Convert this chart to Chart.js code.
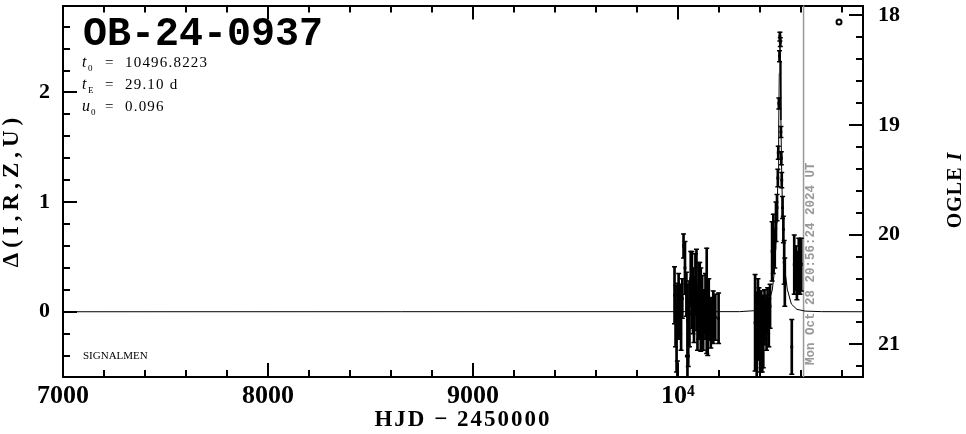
<!DOCTYPE html>
<html>
<head>
<meta charset="utf-8">
<script src="https://cdn.jsdelivr.net/npm/chart.js@4"></script>
<style>
  html, body { margin: 0; padding: 0; background: #fff; }
  #wrap { width: 966px; height: 434px; position: relative; }
</style>
</head>
<body>
<div id="wrap"><canvas id="lc"></canvas></div>
<script>
// photometry (HJD - 2450000, delta mag, error)
const hjd = [9983, 9988, 9993, 9997, 9998, 10003, 10008, 10015, 10021, 10027, 10034, 10041, 10046, 10046, 10050,
  10056, 10062, 10068, 10073, 10078, 10085, 10090, 10095, 10101, 10106, 10111, 10118, 10123, 10128, 10134,
  10140, 10145, 10150, 10160, 10172, 10182, 10198,
  10376, 10384, 10390, 10395, 10400, 10406, 10411, 10416, 10422, 10428, 10432, 10437, 10443, 10449,
  10459, 10465, 10472, 10478,
  10483, 10487, 10489, 10492, 10495, 10497, 10499, 10502, 10504, 10506, 10510, 10514, 10518, 10521,
  10555, 10567, 10574, 10580, 10589, 10595, 10601];
const delta = [0.15, -0.04, -0.25, -0.70, 0.02, 0.05, 0.02, -0.05, 0.12, 0.60, 0.40, 0.16, -0.08, -0.65, -0.20,
  -0.02, 0.30, 0.20, 0.10, 0.02, 0.25, 0.20, -0.05, 0.10, 0.15, 0.02, 0.08, -0.10, 0.00, 0.05,
  0.10, -0.10, 0.02, -0.10, -0.05, -0.05, -0.06,
  -0.10, -0.22, -0.05, -0.11, -0.30, -0.16, -0.25, -0.18, -0.05, -0.07, -0.10, 0.01, -0.10, 0.05,
  0.55, 0.62, 0.58, 0.82,
  0.95, 1.22, 1.45, 1.90, 2.33, 2.51, 2.46, 1.64, 1.40, 1.20, 0.95, 0.75, 0.45, 0.27,
  -0.32, 0.43, 0.40, 0.33, 0.42, 0.30, 0.43];
const deltaErr = [0.26, 0.28, 0.30, 0.25, 0.24, 0.30, 0.22, 0.30, 0.18, 0.11, 0.24, 0.20, 0.33, 0.25, 0.30,
  0.30, 0.25, 0.35, 0.30, 0.30, 0.28, 0.37, 0.30, 0.35, 0.30, 0.38, 0.25, 0.25, 0.20, 0.30,
  0.48, 0.30, 0.28, 0.23, 0.24, 0.21, 0.23,
  0.44, 0.40, 0.35, 0.33, 0.25, 0.35, 0.30, 0.33, 0.25, 0.18, 0.25, 0.21, 0.22, 0.20,
  0.27, 0.27, 0.18, 0.18,
  0.12, 0.08, 0.06, 0.05, 0.05, 0.04, 0.04, 0.05, 0.06, 0.07, 0.10, 0.12, 0.20, 0.22,
  0.25, 0.27, 0.20, 0.22, 0.25, 0.14, 0.24];

// model curve
const modelHjd = [7000, 10300, 10400, 10440, 10460, 10470, 10478, 10484, 10488, 10491, 10494, 10496.8,
  10499, 10502, 10505, 10509, 10515, 10523, 10533, 10553, 10580, 10620, 10700, 10902];
const modelDelta = [0, 0.001, 0.013, 0.068, 0.199, 0.365, 0.617, 0.944, 1.286, 1.658, 2.174, 2.548,
  2.288, 1.749, 1.351, 0.988, 0.643, 0.358, 0.206, 0.070, 0.022, 0.006, 0.001, 0];

// axes
const xMajorTicks = [7000, 8000, 9000, 10000];
const deltaMajorTicks = [0, 1, 2];
const magMajorTicks = [18, 19, 20, 21];
const xMinorTicks = [];
for (let v = 7200; v < 10900; v += 200) if (v % 1000) xMinorTicks.push(v);
const deltaMinorTicks = [];
for (let i = -2; i <= 13; i++) if (i % 5) deltaMinorTicks.push(i / 5);
const magMinorTicks = [];
for (let i = 91; i <= 106; i++) if (i % 5) magMinorTicks.push(i / 5);

const alertHjd = 10612.37;
const alertText = 'Mon Oct 28 20:56:24 2024 UT';
const eventName = 'OB-24-0937';

const serif = '"Liberation Serif", "DejaVu Serif", serif';
const mono = '"Liberation Mono", "DejaVu Sans Mono", monospace';

// fixed axis box sizes, no extra label padding
const fixSize = (w, h) => (scale) => {
  if (w != null) scale.width = w;
  if (h != null) scale.height = h;
  scale.paddingLeft = scale.paddingRight = scale.paddingTop = scale.paddingBottom = 0;
};

const decor = {
  id: 'decor',
  beforeDatasetsDraw(chart) {
    const { ctx, chartArea: a, scales } = chart;
    // alert time marker
    const xp = scales.x.getPixelForValue(alertHjd);
    ctx.save();
    ctx.strokeStyle = '#999';
    ctx.lineWidth = 1.5;
    ctx.beginPath();
    ctx.moveTo(xp, a.top);
    ctx.lineTo(xp, a.bottom);
    ctx.stroke();
    ctx.translate(xp + 7, a.bottom - 12);
    ctx.rotate(-Math.PI / 2);
    ctx.fillStyle = '#999';
    ctx.font = 'bold 12.5px ' + mono;
    ctx.textBaseline = 'middle';
    ctx.textAlign = 'left';
    ctx.fillText(alertText, 0, 0);
    ctx.restore();
  },
  afterDraw(chart) {
    const { ctx, chartArea: a, scales } = chart;
    ctx.save();
    ctx.strokeStyle = '#000';
    ctx.lineWidth = 2;
    const hTicks = (vals, len) => vals.forEach(v => {
      const p = Math.round(scales.x.getPixelForValue(v));
      ctx.beginPath();
      ctx.moveTo(p, a.bottom); ctx.lineTo(p, a.bottom - len);
      ctx.moveTo(p, a.top); ctx.lineTo(p, a.top + len);
      ctx.stroke();
    });
    const vTicks = (scale, vals, len, left) => vals.forEach(v => {
      const p = Math.round(scale.getPixelForValue(v));
      const x0 = left ? a.left : a.right;
      ctx.beginPath();
      ctx.moveTo(x0, p); ctx.lineTo(left ? x0 + len : x0 - len, p);
      ctx.stroke();
    });
    hTicks(xMajorTicks, 14);
    hTicks(xMinorTicks, 7);
    vTicks(scales.y, deltaMajorTicks, 14, true);
    vTicks(scales.y, deltaMinorTicks, 7, true);
    vTicks(scales.y2, magMajorTicks, 14, false);
    vTicks(scales.y2, magMinorTicks, 7, false);

    ctx.fillStyle = '#000';
    ctx.textBaseline = 'alphabetic';
    ctx.textAlign = 'left';
    // event name
    ctx.font = 'bold 40px ' + mono;
    ctx.fillText(eventName, 83, 45);
    // parameters
    const param = (sym, sub, val, y) => {
      ctx.font = 'italic 16px ' + serif;
      ctx.letterSpacing = '0px';
      ctx.fillText(sym, 82, y);
      ctx.font = '9px ' + serif;
      ctx.fillText(sub, sym === 'u' ? 91 : 88, y + 4);
      ctx.font = '15px ' + serif;
      ctx.letterSpacing = '1.2px';
      ctx.fillText('=', 105, y);
      ctx.fillText(val, 125, y);
      ctx.letterSpacing = '0px';
    };
    param('t', '0', '10496.8223', 67);
    param('t', 'E', '29.10 d', 89);
    param('u', '0', '0.096', 111);
    ctx.font = '11px ' + serif;
    ctx.fillText('SIGNALMEN', 83, 359);

    // dataset marker
    ctx.beginPath();
    ctx.lineWidth = 2;
    ctx.arc(839, 22, 2.5, 0, Math.PI * 2);
    ctx.stroke();

    // axis titles
    ctx.textAlign = 'center';
    ctx.textBaseline = 'middle';
    ctx.font = 'bold 23px ' + serif;
    ctx.letterSpacing = '2px';
    ctx.fillText('HJD \u2212 2450000', (a.left + a.right) / 2, 420);
    ctx.save();
    ctx.translate(12, 190);
    ctx.rotate(-Math.PI / 2);
    ctx.letterSpacing = '5px';
    ctx.fillText('\u0394(I,R,Z,U)', 0, 0);
    ctx.restore();
    ctx.save();
    ctx.translate(956, 190);
    ctx.rotate(-Math.PI / 2);
    ctx.letterSpacing = '1px';
    ctx.textAlign = 'left';
    ctx.font = 'bold 20px ' + serif;
    const w1 = ctx.measureText('OGLE ').width;
    ctx.font = 'bold italic 20px ' + serif;
    const w2 = ctx.measureText('I').width;
    ctx.font = 'bold 20px ' + serif;
    ctx.fillText('OGLE ', -(w1 + w2) / 2, 0);
    ctx.font = 'bold italic 20px ' + serif;
    ctx.fillText('I', -(w1 + w2) / 2 + w1, 0);
    ctx.restore();
    ctx.restore();
  }
};

const ctx = document.getElementById('lc').getContext('2d');
const lc = new Chart(ctx, {
  type: 'scatter',
  data: {
    datasets: [
      {
        type: 'line',
        label: 'model',
        data: modelHjd.map((x, i) => ({ x: x, y: modelDelta[i] })),
        borderColor: '#000',
        borderWidth: 1,
        pointRadius: 0,
        tension: 0,
        order: 4
      },
      {
        type: 'bar',
        label: 'errors',
        data: hjd.map((x, i) => ({ x: x, y: [delta[i] - deltaErr[i], delta[i] + deltaErr[i]] })),
        backgroundColor: '#000',
        barThickness: 2,
        grouped: false,
        order: 3
      },
      {
        label: 'caps',
        data: hjd.flatMap((x, i) => [{ x: x, y: delta[i] - deltaErr[i] }, { x: x, y: delta[i] + deltaErr[i] }]),
        pointStyle: 'line',
        pointRadius: 2.5,
        borderColor: '#000',
        borderWidth: 1.5,
        order: 2
      },
      {
        label: 'OGLE I',
        data: hjd.map((x, i) => ({ x: x, y: delta[i] })),
        pointStyle: 'rect',
        pointRadius: 2,
        backgroundColor: '#000',
        borderColor: '#000',
        borderWidth: 0,
        order: 1
      }
    ]
  },
  options: {
    responsive: true,
    maintainAspectRatio: false,
    animation: false,
    devicePixelRatio: 1,
    events: [],
    layout: { padding: 0 },
    plugins: { legend: { display: false }, tooltip: { enabled: false } },
    scales: {
      x: {
        type: 'linear', position: 'bottom', min: 7000, max: 10902.4, offset: false,
        afterBuildTicks: s => { s.ticks = xMajorTicks.map(v => ({ value: v })); },
        afterFit: fixSize(null, 57),
        grid: { display: false, drawTicks: false, offset: false },
        border: { display: true, color: '#000', width: 2 },
        ticks: {
          color: '#000', padding: 4, maxRotation: 0, autoSkip: false,
          font: { family: serif, size: 26, weight: 'bold' },
          callback: v => (v === 10000 ? '10\u2074' : String(v))
        }
      },
      x2: {
        type: 'linear', position: 'top', min: 7000, max: 10902.4, offset: false,
        afterFit: fixSize(null, 1),
        grid: { display: false, drawTicks: false, offset: false },
        border: { display: true, color: '#000', width: 2 },
        ticks: { display: false }
      },
      y: {
        type: 'linear', position: 'left', min: -0.595, max: 2.793,
        afterBuildTicks: s => { s.ticks = deltaMajorTicks.map(v => ({ value: v })); },
        afterFit: fixSize(63, null),
        grid: { display: false, drawTicks: false },
        border: { display: true, color: '#000', width: 2 },
        ticks: { color: '#000', padding: 13, font: { family: serif, size: 22, weight: 'bold' } }
      },
      y2: {
        type: 'linear', position: 'right', reverse: true, min: 17.91, max: 21.298,
        afterBuildTicks: s => { s.ticks = magMajorTicks.map(v => ({ value: v })); },
        afterFit: fixSize(103, null),
        grid: { display: false, drawTicks: false },
        border: { display: true, color: '#000', width: 2 },
        ticks: { color: '#000', padding: 15, font: { family: serif, size: 22, weight: 'bold' } }
      }
    }
  },
  plugins: [decor]
});
</script>
</body>
</html>
